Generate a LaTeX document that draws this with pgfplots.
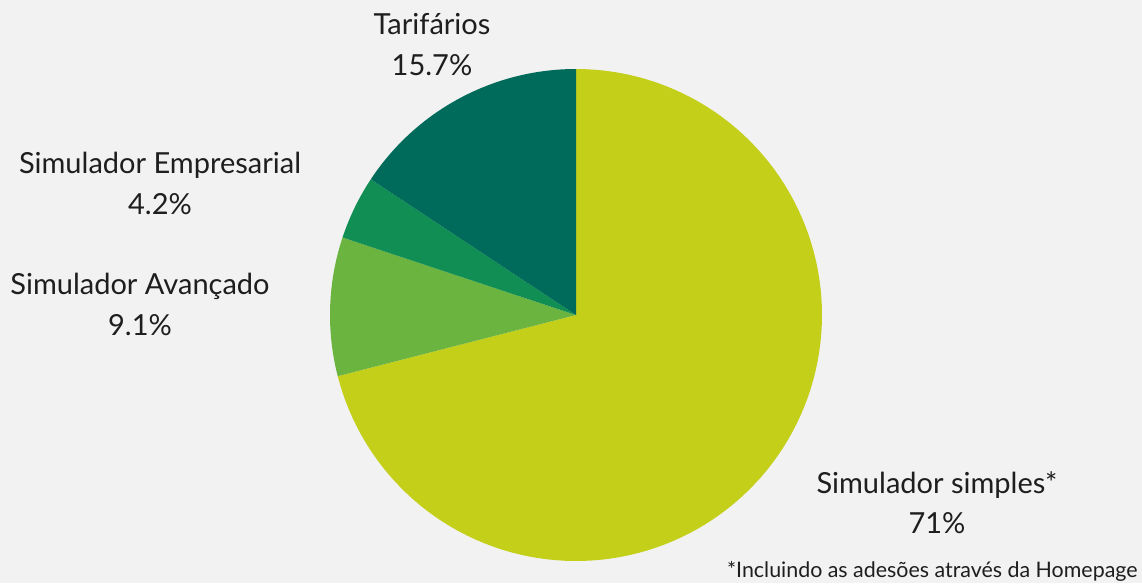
\documentclass[border=0pt]{standalone}
\usepackage{fontspec}
\setmainfont{Lato}
\usepackage{pgfplots}
\pgfplotsset{compat=1.18}

\definecolor{bgcol}{HTML}{F2F2F2}
\definecolor{simples}{HTML}{C4CF1A}
\definecolor{avancado}{HTML}{6BB43F}
\definecolor{empresarial}{HTML}{108E53}
\definecolor{tarifarios}{HTML}{006B5A}
\definecolor{txt}{HTML}{1E1E1E}

% pie centre and radius in pixel units of the reference (y measured from bottom)
\def\cx{576}
\def\cy{268}
\def\rr{246}

\begin{document}
\begin{tikzpicture}
\begin{axis}[
    hide axis,
    scale only axis,
    width=571pt, height=291.5pt,
    xmin=0, xmax=1142, ymin=0, ymax=583,
    clip=false,
    every axis plot/.append style={draw=none, samples=120, variable=\t},
]
  \fill[bgcol] (axis cs:0,0) rectangle (axis cs:1142,583);

  % slices, clockwise from 12 o'clock; shares in percent
  \addplot[fill=simples, domain={90-3.6*71}:{90}]
    ({\cx+\rr*cos(t)}, {\cy+\rr*sin(t)}) -- (axis cs:\cx,\cy) -- cycle;
  \addplot[fill=avancado, domain={90-3.6*(71+9.1)}:{90-3.6*71}]
    ({\cx+\rr*cos(t)}, {\cy+\rr*sin(t)}) -- (axis cs:\cx,\cy) -- cycle;
  \addplot[fill=empresarial, domain={90-3.6*(71+9.1+4.2)}:{90-3.6*(71+9.1)}]
    ({\cx+\rr*cos(t)}, {\cy+\rr*sin(t)}) -- (axis cs:\cx,\cy) -- cycle;
  \addplot[fill=tarifarios, domain={-270}:{90-3.6*(71+9.1+4.2)}]
    ({\cx+\rr*cos(t)}, {\cy+\rr*sin(t)}) -- (axis cs:\cx,\cy) -- cycle;

  \begin{scope}[every node/.style={text=txt, font=\fontsize{14.5}{17}\selectfont, align=center}]
    \node at (axis cs:432,538) {Tarifários\\[3.5pt]15.7\%};
    \node at (axis cs:160,400) {Simulador Empresarial\\[3.5pt]4.2\%};
    \node at (axis cs:140,279) {Simulador Avançado\\[3.5pt]9.1\%};
    \node at (axis cs:937,80) {Simulador simples*\\[3pt]71\%};
  \end{scope}
  \node[text=txt, font=\fontsize{10.7}{12}\selectfont, anchor=base east, inner sep=0pt] at (axis cs:1138,6)
    {*Incluindo as adesões através da Homepage};
\end{axis}
\end{tikzpicture}
\end{document}
